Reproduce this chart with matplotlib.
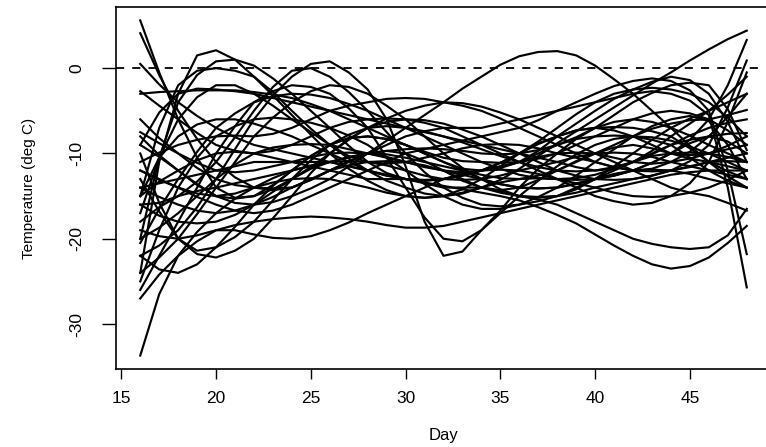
import numpy as np
import matplotlib
matplotlib.use("Agg")
from matplotlib import pyplot as plt

# one value per day, days 16..48
days = [16, 17, 18, 19, 20, 21, 22, 23, 24, 25, 26, 27, 28, 29, 30, 31, 32,
        33, 34, 35, 36, 37, 38, 39, 40, 41, 42, 43, 44, 45, 46, 47, 48]

# smoothed temperature curves (deg C)
st01 = [5.6, -0.5, -6, -10.5, -14, -15.2, -15, -13.7, -12, -10.3, -9, -8.2, -8, -8.3, -9, -10, -11,
        -11.8, -12, -11.7, -11, -10, -9, -8.3, -8, -7.9, -8, -8.4, -9, -10.5, -12, -13.2, -14]
st02 = [4.1, -0.8, -5, -8.3, -11, -12.8, -14, -14.3, -14, -13.1, -12, -10.9, -10, -9.7, -10, -10.9, -12,
        -13.2, -14, -14.3, -14, -13.1, -12, -10.9, -10, -9.3, -9, -9.4, -10, -10.2, -10, -9.1, -8]
st03 = [0.5, -1.9, -4, -5.6, -7, -8.1, -9, -9.5, -10, -10.5, -11, -11.5, -12, -12.6, -13, -13.2, -13,
        -12.6, -12, -11.1, -10, -8.9, -8, -7.3, -7, -6.9, -7, -7.4, -8, -9.4, -11, -12.1, -13]
st04 = [-24, -11, -3, 1.5, 2.1, 1, -1, -3.2, -5.5, -7.8, -10, -11.8, -13.2, -14.3, -15, -15.2, -15,
        -14.2, -13, -11.5, -10, -8.8, -8, -7.3, -7, -7.3, -8, -9, -10, -10.6, -11, -11.5, -12]
st05 = [-20, -10.5, -4, -0.8, 0.8, 1, 0.3, -1.2, -3, -5, -7, -9.1, -11, -12.3, -13, -13.2, -13,
        -12.5, -12, -11.5, -11, -10.4, -10, -9.9, -10, -10.5, -11, -11.2, -11, -10.6, -10, -9.5, -9]
st06 = [-15, -7, -2, -0.3, 0, -0.3, -1, -2.8, -5, -7.1, -9, -10.3, -11, -11.2, -11, -10.5, -10,
        -9.4, -9, -8.9, -9, -9.4, -10, -10.5, -11, -11.6, -12, -11.8, -11, -9.8, -8, -5.7, -3]
st07 = [-17, -10.5, -6, -3.4, -2, -2, -3, -4.4, -6, -7.5, -9, -10.6, -12, -13.2, -14, -14.7, -15,
        -14.7, -14, -13.4, -13, -12.9, -13, -13.1, -13, -12.6, -12, -11.1, -10, -8.8, -8, -8.6, -10]
st08 = [-9, -5.2, -3, -2.4, -2.5, -2.7, -3, -3.5, -4, -4.5, -5, -5.5, -6, -6.5, -7, -7.5, -8,
        -8.5, -9, -9.5, -10, -10.5, -11, -11.6, -12, -11.8, -11, -9.7, -8, -6.5, -5, -3.1, -1]
st09 = [-22, -20.8, -19, -16.3, -13, -9.5, -6, -3.2, -1, 0.5, 0.8, -0.5, -2.5, -6, -11.5, -18, -22,
        -21.5, -19, -17, -15, -13.2, -11.5, -10.1, -9, -8.3, -8, -8.1, -8.5, -9.2, -10, -11, -12]
st10 = [-16, -15.8, -15, -13.3, -11, -8.1, -5, -2.2, -0.3, 0, -1, -2.8, -5, -7.5, -10, -12.2, -14,
        -15.2, -16, -16.2, -16, -15.6, -15, -14, -13, -12, -11, -10.3, -10, -9.9, -10, -10.4, -11]
st11 = [-24, -22.2, -20, -17.1, -14, -11, -8, -5.8, -4, -2.7, -2, -2.2, -3, -4.4, -6, -8, -10,
        -11.7, -13, -14.2, -15, -15.2, -15, -14.2, -13, -11.5, -10, -8.4, -7, -5.9, -5, -4, -3]
st12 = [-8, -10.2, -12, -13.7, -15, -15.8, -16, -15.7, -15, -14.1, -13, -11.5, -10, -8.5, -7, -5.5, -4,
        -2.4, -1, 0.4, 1.4, 1.9, 2, 1.5, 0.3, -1.3, -3, -5, -7, -9.1, -11, -12.7, -14]
st13 = [-12, -13.1, -14, -14.7, -15, -14.7, -14, -13.4, -13, -12.9, -13, -13.5, -14, -14.6, -15, -15.2, -15,
        -14.6, -14, -13.1, -11.8, -10.3, -8.8, -7.4, -6, -4.6, -3.2, -1.8, -0.5, 0.9, 2.2, 3.4, 4.4]
st14 = [-15, -13.3, -12, -10.8, -10, -9.8, -10, -10.5, -11, -11.5, -12, -12.5, -13, -13, -13, -13.4, -13.8,
        -14.2, -14.6, -15, -15.5, -16.3, -17.2, -18.2, -19.5, -20.8, -22, -23, -23.5, -23.2, -22.2, -20.5, -18.5]
st15 = [-14, -13.5, -13, -12.5, -12, -11.5, -11, -11, -11, -11, -11, -11.5, -12, -12.5, -13, -13.5, -14,
        -14, -14, -14.4, -15, -15.4, -16, -17, -18, -19, -20, -20.6, -21, -21.2, -21, -19.6, -16.5]
st16 = [-26, -22, -18, -14, -10, -6.8, -4, -2.7, -2, -2.2, -3, -4.7, -7, -10.5, -14, -17.5, -20,
        -20.3, -19, -16.7, -14, -11.8, -10, -8.3, -7, -6.3, -6, -6.3, -7, -7.9, -9, -10, -11]
st17 = [-27, -24.2, -22, -20.3, -19, -18.4, -18, -17.7, -17.5, -17.4, -17.5, -17.7, -18, -18.4, -18.7, -18.7, -18.5,
        -18, -17.5, -17, -16.5, -16, -15.5, -15, -14.5, -14, -13.5, -13, -12.5, -12.2, -12, -12, -12]
st18 = [-33.7, -26.5, -22, -19.2, -17, -15.3, -14, -12.9, -12, -11.4, -11, -10.9, -11, -11.4, -12, -12.6, -13,
        -13.1, -13, -12.6, -12, -11.5, -11, -10.4, -10, -9.9, -10, -10.4, -11, -11.5, -12, -12.5, -13]
st19 = [-22, -23.6, -24, -23, -21, -18.6, -16, -13.8, -12, -10.3, -9, -8.2, -8, -8.3, -9, -10, -11,
        -12, -13, -13.6, -14, -14.1, -14, -13.5, -13, -12.4, -12, -11.9, -12, -12.4, -13, -13.5, -14]
st20 = [-13, -16.8, -20, -21.8, -22.2, -21.4, -20, -17.6, -15, -12.3, -10, -8.3, -7, -6.3, -6, -6.1, -6.5,
        -7.2, -8, -9, -10, -11, -12, -12.6, -13, -13.1, -13, -12.6, -12, -11.5, -11, -10.9, -11]
st21 = [-10, -15.8, -20, -21.4, -21, -19.8, -18, -15.5, -13, -10.8, -9, -7.8, -7, -6.8, -7, -7.4, -8,
        -8.7, -9.5, -10.3, -11, -11.6, -12, -12.1, -12, -11.6, -11, -10.1, -9, -7.9, -7, -6.4, -6]
st22 = [-19, -19.7, -20, -19.6, -19, -19, -19.5, -19.9, -20, -19.7, -19, -18.1, -17, -16, -15, -14, -13,
        -12.4, -12, -11.9, -12, -12.4, -13, -13.5, -14, -14.6, -15, -15.1, -15, -14.6, -14, -13.1, -12]
st23 = [-20, -18.7, -17, -15, -13, -11.3, -10, -9.3, -9, -8.9, -9, -9.5, -10, -10.5, -11, -11.6, -12,
        -12.2, -12, -11.6, -11, -9.7, -8, -6.5, -5, -3.6, -2.5, -1.6, -1, -1.4, -3, -6.3, -11]
st24 = [-12, -13, -14, -15.1, -16, -16.7, -17, -16.7, -16, -15, -14, -13, -12, -11, -10, -9.5, -9,
        -8.5, -8, -7.5, -7, -6.1, -5, -4, -3, -2.1, -1.5, -1.2, -1.5, -2.6, -5, -12, -21.8]
st25 = [-6, -8.2, -10, -11.7, -13, -13.7, -14, -14.1, -14, -13.1, -12, -11, -10, -9, -8, -7.4, -7,
        -7, -7, -6.5, -6, -5.5, -5, -4.5, -4, -3.5, -3, -2.7, -3, -3.8, -5.5, -14, -25.7]
st26 = [-15, -10.5, -8, -6.6, -6, -6, -6.5, -7.2, -8, -9, -10, -11, -12, -12.6, -13, -13.1, -13,
        -12.6, -12, -11.1, -10, -8.6, -7, -5.4, -4, -3, -2.5, -2.3, -2.5, -3, -4, -5.8, -8]
st27 = [-18, -16.3, -15, -14.4, -14, -13.5, -13, -12.5, -12, -11.5, -11, -10.5, -10, -9.7, -9.5, -9.4, -9.5,
        -9.7, -10, -10.1, -10, -9.6, -9, -8.1, -7, -5.5, -4, -2.9, -2, -1.7, -2, -4.8, -9.6]
st28 = [-14, -15.1, -16, -16.7, -17, -16.7, -16, -15.1, -14, -13, -12, -11.4, -11, -10.9, -11, -11.4, -12,
        -12.5, -13, -13.6, -14, -14.1, -14, -13.6, -13, -12.6, -12, -11.1, -10, -8.4, -6, -2, 3.3]
st29 = [-7.5, -8.8, -10, -11.1, -12, -12.2, -12, -11.5, -11, -10.4, -10, -9.9, -10, -10.4, -11, -11.5, -12,
        -13, -14, -14.6, -15, -15.1, -15, -14.6, -14, -13.5, -13, -12.6, -12, -10.9, -9, -4.6, 0.9]
st30 = [-2.7, -4.4, -6, -7.6, -9, -9.7, -10, -9.7, -9, -8, -7, -6.3, -6, -5.9, -6, -6.4, -7,
        -8, -9, -10, -11, -12, -13, -14, -15, -15.6, -16, -15.8, -15, -13.5, -11, -6.3, -0.5]
st31 = [-11, -9.9, -9, -8.4, -8, -7.9, -8, -7.7, -7, -6, -5, -4.4, -4, -3.6, -3.5, -3.6, -4,
        -4.4, -5, -5.9, -7, -8, -9, -10, -11, -11.6, -12, -12.1, -12, -11.6, -11, -10.5, -10]
st32 = [-9, -10.4, -12, -13.6, -15, -15.3, -15, -14.2, -13, -11.6, -10, -8.4, -7, -5.9, -5, -4.4, -4,
        -4.1, -4.5, -5.2, -6, -7, -8, -9, -10, -11, -12, -13, -14, -14.6, -15, -15.8, -16.7]
st33 = [-20.5, -16.5, -13, -9.8, -7, -5.3, -4, -3.3, -3, -3.1, -3.5, -4.2, -5, -6, -7, -8, -9,
        -10, -11, -11.8, -12.5, -12.9, -13, -12.9, -12.5, -11.8, -11, -10, -9, -8.4, -8, -7.7, -7.6]
st34 = [-16, -17.3, -18, -18.2, -18, -17.2, -16, -14.5, -13, -11.8, -11, -10.4, -10, -10.1, -10.5, -11, -11.5,
        -12, -12.5, -12.9, -13, -12.6, -12, -11, -10, -9, -8, -7.1, -6.5, -6.1, -6, -5.5, -4.9]
st35 = [-3, -2.8, -2.7, -2.6, -2.6, -2.6, -2.8, -3.1, -3.5, -4.2, -5, -6, -7, -8, -9, -9.8, -10.5,
        -10.9, -11, -11.1, -11, -10.6, -10, -9, -8, -7, -6, -5.3, -5, -5.3, -6, -7.3, -9]
st36 = [-25, -19, -14, -10.5, -8, -6.8, -6, -5.8, -6, -6.4, -7, -7.9, -9, -10.5, -12, -13.6, -15,
        -16, -16.5, -16.5, -16, -15.1, -14, -12.6, -11, -9.5, -8, -6.8, -6, -5.6, -6.2, -9, -13]

curves = [st01, st02, st03, st04, st05, st06, st07, st08, st09, st10, st11, st12,
          st13, st14, st15, st16, st17, st18, st19, st20, st21, st22, st23, st24,
          st25, st26, st27, st28, st29, st30, st31, st32, st33, st34, st35, st36]

xticks = [15, 20, 25, 30, 35, 40, 45]
yticks = [-30, -20, -10, 0]

for i, c in enumerate(curves):
    assert len(c) == len(days), (i + 1, len(c))

plt.rcParams["font.family"] = ["Liberation Sans", "DejaVu Sans"]

fig = plt.figure(figsize=(7.66, 4.47), dpi=100)
# plot region runs past the right edge, as in the reference crop
ax = fig.add_axes([116 / 766, 78 / 447, 655 / 766, 362 / 447])

for temps in curves:
    ax.plot(days, temps, color="black", lw=1.55, solid_joinstyle="round")

ax.axhline(0, color="black", lw=1.3, ls=(0, (4.5, 4.5)))

# R style 4% padding around the data
allv = np.concatenate([np.array(c, dtype=float) for c in curves])
lo, hi = allv.min(), allv.max()
pad = 0.04 * (hi - lo)
ax.set_xlim(days[0] - 0.04 * (days[-1] - days[0]), days[-1] + 0.04 * (days[-1] - days[0]))
ax.set_ylim(lo - pad, hi + pad)

ax.set_xticks(xticks)
ax.set_yticks(yticks)
ax.set_yticklabels([str(t) for t in yticks], rotation=90, va="center")
ax.tick_params(axis="x", length=7, width=1, pad=9, labelsize=12.5)
ax.tick_params(axis="y", length=10, width=1, pad=13, labelsize=12.5)

for sp in ax.spines.values():
    sp.set_linewidth(1.2)

ax.set_xlabel("Day", fontsize=12, labelpad=16)
ax.set_ylabel("Temperature (deg C)", fontsize=11, labelpad=24)

fig.savefig("out.png", dpi=100)
